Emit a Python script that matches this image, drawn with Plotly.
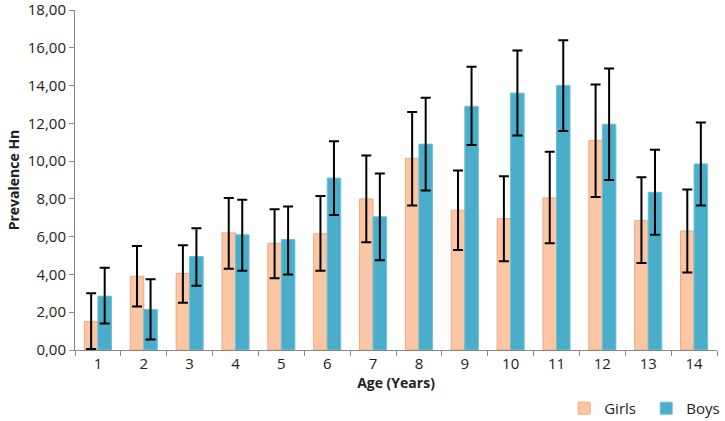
import plotly.graph_objects as go

ages = [str(i) for i in range(1, 15)]
girls = [1.5, 3.9, 4.05, 6.2, 5.65, 6.15, 8.0, 10.15, 7.4, 6.95, 8.05, 11.1, 6.85, 6.3]
girls_hi = [3.0, 5.5, 5.55, 8.05, 7.45, 8.15, 10.3, 12.6, 9.5, 9.2, 10.5, 14.05, 9.15, 8.5]
girls_lo = [0.05, 2.3, 2.5, 4.3, 3.8, 4.2, 5.7, 7.65, 5.3, 4.7, 5.65, 8.1, 4.6, 4.1]
boys = [2.85, 2.15, 4.95, 6.1, 5.85, 9.1, 7.05, 10.9, 12.9, 13.6, 14.0, 11.95, 8.35, 9.85]
boys_hi = [4.35, 3.75, 6.45, 7.95, 7.6, 11.05, 9.35, 13.35, 15.0, 15.85, 16.4, 14.9, 10.6, 12.05]
boys_lo = [1.4, 0.55, 3.4, 4.2, 4.0, 7.15, 4.75, 8.45, 10.85, 11.35, 11.6, 9.0, 6.1, 7.65]

def err(v, hi, lo):
    return dict(type="data", symmetric=False,
                array=[h - x for h, x in zip(hi, v)],
                arrayminus=[x - l for x, l in zip(v, lo)],
                color="black", thickness=2, width=5)

fig = go.Figure()
fig.add_trace(go.Bar(name="Girls", x=ages, y=girls, error_y=err(girls, girls_hi, girls_lo),
                     marker=dict(color="#FAC6A4", line=dict(color="#F2A87E", width=1))))
fig.add_trace(go.Bar(name="Boys", x=ages, y=boys, error_y=err(boys, boys_hi, boys_lo),
                     marker=dict(color="#4AADC9", line=dict(color="#6CC0D8", width=1))))

fig.update_layout(
    width=725, height=421,
    margin=dict(l=75, r=8, t=10, b=71, autoexpand=False),
    paper_bgcolor="white", plot_bgcolor="white",
    separators=",.",
    bargap=0.41, bargroupgap=0,
    font=dict(family="Open Sans, Liberation Sans, sans-serif", size=15, color="#222"),
    showlegend=True,
    legend=dict(orientation="h", x=0.762, y=-0.172, xanchor="left", yanchor="middle",
                font=dict(size=15), itemwidth=30, entrywidth=37, entrywidthmode="pixels",
                traceorder="normal"),
    xaxis=dict(type="category", showline=True, linecolor="#888", linewidth=1,
               ticks="outside", tickson="boundaries", ticklen=5, tickcolor="#888",
               title=dict(text="<b>Age (Years)</b>", font=dict(size=14), standoff=0),
               tickfont=dict(size=15)),
    yaxis=dict(range=[0, 18], dtick=2, tickformat=".2f", showgrid=False, zeroline=False,
               showline=True, linecolor="#888", linewidth=1,
               ticks="outside", ticklen=5, tickcolor="#888", ticklabeloverflow="allow",
               title=dict(text="<b>Prevalence Hn</b>", font=dict(size=14), standoff=4),
               tickfont=dict(size=15)),
)

fig.write_html("out.html", config={"displayModeBar": False},
               post_script="document.body.style.margin='0px';")
